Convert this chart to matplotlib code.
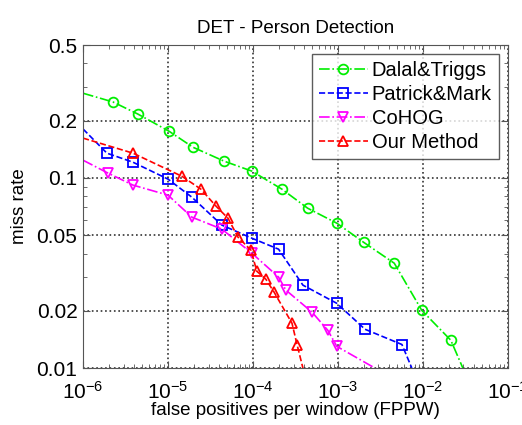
import numpy as np
import matplotlib
matplotlib.use('Agg')
import matplotlib.pyplot as plt
from matplotlib.ticker import LogLocator, FixedLocator, NullFormatter

plt.rcParams['font.family'] = ['Liberation Sans', 'DejaVu Sans']
plt.rcParams['mathtext.fontset'] = 'custom'
plt.rcParams['mathtext.rm'] = 'Liberation Sans'
plt.rcParams['mathtext.it'] = 'Liberation Sans'

# 数据
dalal_x = [1e-6, 2.25e-6, 4.4e-6, 1.03e-5, 1.97e-5, 4.56e-5, 9.7e-5, 2.19e-4, 4.4e-4,
           9.7e-4, 2.0e-3, 4.6e-3, 9.7e-3, 2.13e-2, 2.95e-2]
dalal_y = [0.279, 0.251, 0.217, 0.176, 0.145, 0.1226, 0.1086, 0.0873, 0.0693,
           0.0578, 0.0459, 0.0356, 0.0201, 0.014, 0.01]

patrick_x = [1e-6, 1.91e-6, 3.87e-6, 1e-5, 1.91e-5, 4.3e-5, 9.7e-5, 2.0e-4, 3.87e-4,
             9.7e-4, 2.08e-3, 5.66e-3, 7.4e-3]
patrick_y = [0.181, 0.135, 0.121, 0.0986, 0.0792, 0.0565, 0.0482, 0.0422, 0.0273,
             0.0219, 0.016, 0.0133, 0.01]

cohog_x = [1e-6, 1.97e-6, 3.87e-6, 1e-5, 1.91e-5, 4.3e-5, 9.7e-5, 2.0e-4, 2.44e-4,
           4.94e-4, 7.6e-4, 9.7e-4, 2.72e-3]
cohog_y = [0.124, 0.106, 0.0917, 0.0812, 0.0622, 0.0538, 0.0402, 0.0301, 0.0257,
           0.0197, 0.0158, 0.013, 0.01]

ours_x = [1e-6, 3.87e-6, 1.46e-5, 2.44e-5, 3.67e-5, 5.08e-5, 6.67e-5, 9.47e-5, 1.11e-4,
          1.42e-4, 1.77e-4, 2.88e-4, 3.3e-4, 3.87e-4]
ours_y = [0.162, 0.135, 0.102, 0.0873, 0.0711, 0.0614, 0.0488, 0.0417, 0.0323,
          0.0293, 0.0251, 0.0172, 0.0133, 0.01]

yticks = [0.01, 0.02, 0.05, 0.1, 0.2, 0.5]
ytick_labels = ['0.01', '0.02', '0.05', '0.1', '0.2', '0.5']
xticks = [1e-6, 1e-5, 1e-4, 1e-3, 1e-2, 1e-1]

fig = plt.figure(figsize=(5.22, 4.25), dpi=100)
ax = fig.add_axes([0.159, 0.134, 0.814, 0.760])

series = [
    (dalal_x, dalal_y, '#00ee00', '-.', 'o', 'Dalal&Triggs'),
    (patrick_x, patrick_y, '#0000ff', '--', 's', 'Patrick&Mark'),
    (cohog_x, cohog_y, '#ff00ff', '-.', 'v', 'CoHOG'),
    (ours_x, ours_y, '#ff0000', '--', '^', 'Our Method'),
]
for xs, ys, c, ls, mk, lab in series:
    n = len(xs)
    ax.plot(xs, ys, color=c, linestyle=ls, marker=mk, markersize=7,
            markerfacecolor='none', markeredgecolor=c, markeredgewidth=1.3,
            linewidth=1.2, markevery=list(range(1, n - 1)), label=lab)

ax.set_xscale('log')
ax.set_yscale('log')
ax.set_xlim(1e-6, 1e-1)
ax.set_ylim(0.01, 0.5)

ax.yaxis.set_major_locator(FixedLocator(yticks))
ax.set_yticklabels(ytick_labels)
ax.yaxis.set_minor_locator(LogLocator(base=10, subs=np.arange(1, 10)))
ax.yaxis.set_minor_formatter(NullFormatter())
ax.xaxis.set_major_locator(FixedLocator(xticks))
ax.set_xticklabels([r'$10^{%d}$' % e for e in range(-6, 0)])
ax.xaxis.set_minor_locator(LogLocator(base=10, subs=np.arange(2, 10)))
ax.xaxis.set_minor_formatter(NullFormatter())

ax.tick_params(which='both', direction='in', top=True, right=True, color='#555555')
ax.tick_params(which='major', length=5, labelsize=15, pad=4)
ax.tick_params(axis='x', which='major', labelsize=15, pad=9)
ax.tick_params(which='minor', length=3)
ax.grid(True, which='major', linestyle=':', color='#333333', linewidth=1.2)
for s in ax.spines.values():
    s.set_color('#555555')

ax.set_xlabel('false positives per window (FPPW)', fontsize=13.5, labelpad=0)
ax.set_ylabel('miss rate', fontsize=13.5, labelpad=6)
ax.set_title('DET - Person Detection', fontsize=13.5, pad=9)

leg = ax.legend(loc='upper right', fontsize=14.5, frameon=True, fancybox=False,
                edgecolor='#333333', handlelength=2.4, handletextpad=0.2,
                borderpad=0.35, labelspacing=0.25, borderaxespad=0.45)
leg.get_frame().set_linewidth(1.0)

fig.savefig('out.png', dpi=100)
